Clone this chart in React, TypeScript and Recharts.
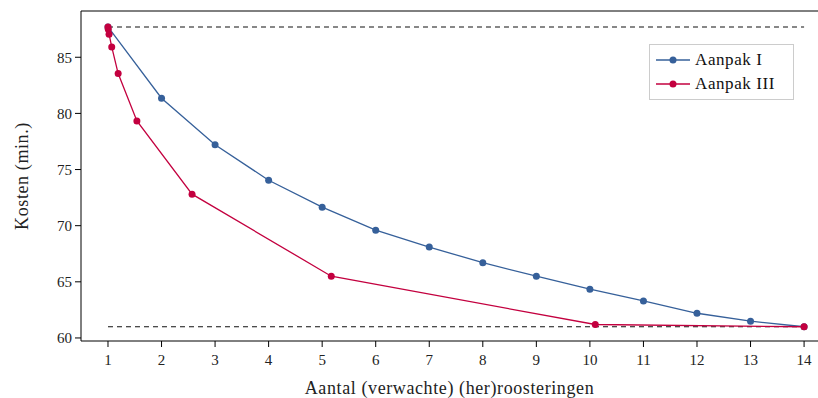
import { LineChart, Line, XAxis, YAxis, ReferenceLine, Label } from 'recharts';

const aanpakIX = [1, 2, 3, 4, 5, 6, 7, 8, 9, 10, 11, 12, 13, 14];
const aanpakIY = [87.7, 81.35, 77.2, 74.05, 71.65, 69.6, 68.1, 66.7, 65.5, 64.35, 63.3, 62.2, 61.5, 61.0];

const aanpakIIIX = [1.0, 1.005, 1.02, 1.07, 1.19, 1.54, 2.57, 5.17, 10.1, 14.0];
const aanpakIIIY = [87.7, 87.5, 87.05, 85.92, 83.55, 79.33, 72.81, 65.5, 61.2, 61.0];

const xTicks = [1, 2, 3, 4, 5, 6, 7, 8, 9, 10, 11, 12, 13, 14];
const yTicks = [60, 65, 70, 75, 80, 85];

const upperBound = 87.7;
const lowerBound = 61.0;

const BLUE = '#36609a';
const RED = '#c3003f';
const FONT = '"Liberation Serif", serif';

const dataI = aanpakIX.map((x, i) => ({ x, y: aanpakIY[i] }));
const dataIII = aanpakIIIX.map((x, i) => ({ x, y: aanpakIIIY[i] }));

const series = [
  { name: 'Aanpak I', color: BLUE },
  { name: 'Aanpak III', color: RED },
];

// legend drawn on top of the chart so the plot keeps its full width
function LegendBox() {
  return (
    <div
      style={{
        position: 'absolute',
        left: 649,
        top: 44,
        border: '1px solid #cccccc',
        background: '#fff',
        width: 145,
        height: 56,
        boxSizing: 'border-box',
        padding: '3px 6px',
        fontFamily: FONT,
        fontSize: 17,
        letterSpacing: 0.6,
      }}
    >
      {series.map((s) => (
        <div key={s.name} style={{ display: 'flex', alignItems: 'center', height: 24 }}>
          <svg width={34} height={10} style={{ marginRight: 5 }}>
            <line x1={0} y1={5} x2={34} y2={5} stroke={s.color} strokeWidth={1.3} />
            <circle cx={17} cy={5} r={3.5} fill={s.color} />
          </svg>
          <span style={{ color: '#111' }}>{s.name}</span>
        </div>
      ))}
    </div>
  );
}

export default function App() {
  return (
    <div style={{ position: 'absolute', left: 0, top: 0, width: 818, height: 398, background: '#fff' }}>
      <LineChart width={818} height={398} margin={{ top: 11, right: 0, left: 0, bottom: 0 }}>
        <XAxis
          dataKey="x"
          type="number"
          domain={[0.496, 14.26]}
          ticks={xTicks}
          allowDataOverflow
          height={57}
          stroke="#000"
          tickSize={6}
          tick={{ fill: '#222', fontFamily: FONT, fontSize: 15 }}
          tickMargin={7}
        >
          <Label
            value="Aantal (verwachte) (her)roosteringen"
            position="insideBottom"
            offset={4}
            style={{ fill: '#222', fontFamily: FONT, fontSize: 18, letterSpacing: 0.6 }}
          />
        </XAxis>
        <YAxis
          dataKey="y"
          type="number"
          domain={[59.73, 89.12]}
          ticks={yTicks}
          allowDataOverflow
          width={81}
          stroke="#000"
          tickSize={6}
          tick={{ fill: '#222', fontFamily: FONT, fontSize: 15 }}
          tickMargin={3}
        >
          <Label
            value="Kosten (min.)"
            angle={-90}
            position="insideLeft"
            offset={22}
            style={{ fill: '#222', fontFamily: FONT, fontSize: 18, letterSpacing: 0.6, textAnchor: 'middle' }}
          />
        </YAxis>
        <ReferenceLine y={89.12} stroke="#000" strokeWidth={1} ifOverflow="extendDomain" />
        <ReferenceLine
          segment={[{ x: 1, y: upperBound }, { x: 14, y: upperBound }]}
          stroke="#111"
          strokeDasharray="5 4"
          strokeWidth={1.1}
        />
        <ReferenceLine
          segment={[{ x: 1, y: lowerBound }, { x: 14, y: lowerBound }]}
          stroke="#111"
          strokeDasharray="5 4"
          strokeWidth={1.1}
        />
        <Line
          data={dataI}
          dataKey="y"
          name="Aanpak I"
          stroke={BLUE}
          strokeWidth={1.3}
          dot={{ r: 3.5, fill: BLUE, stroke: BLUE, strokeWidth: 0 }}
          activeDot={false}
          isAnimationActive={false}
        />
        <Line
          data={dataIII}
          dataKey="y"
          name="Aanpak III"
          stroke={RED}
          strokeWidth={1.3}
          dot={{ r: 3.5, fill: RED, stroke: RED, strokeWidth: 0 }}
          activeDot={false}
          isAnimationActive={false}
        />
      </LineChart>
      <LegendBox />
    </div>
  );
}
